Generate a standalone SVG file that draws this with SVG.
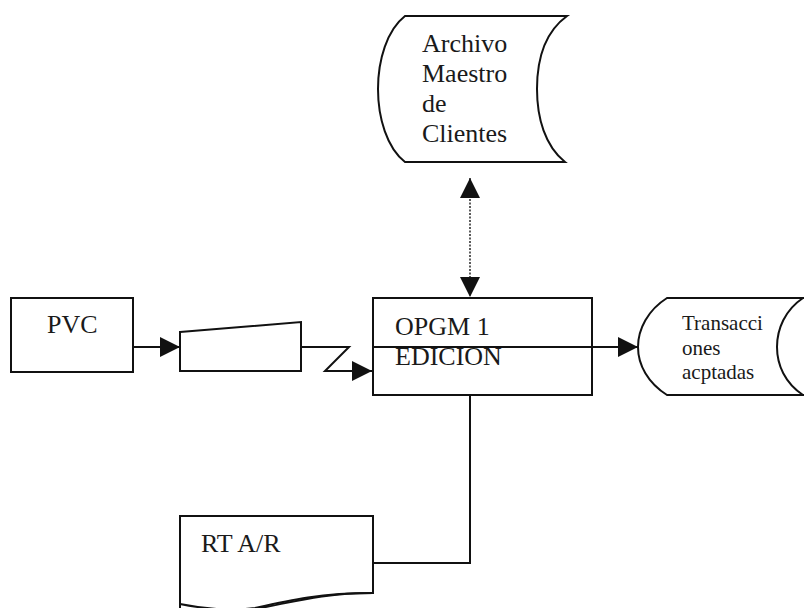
<svg xmlns="http://www.w3.org/2000/svg" width="804" height="608" viewBox="0 0 804 608">
<style>
.s{fill:#fff;stroke:#111;stroke-width:2;stroke-linejoin:miter}
.c{fill:none;stroke:#111;stroke-width:2}
.d{fill:none;stroke:#333;stroke-width:1.6;stroke-dasharray:2 1.5}
.t{font-family:"Liberation Serif","Times New Roman",serif;font-size:26px;fill:#1a1a1a}
.t2{font-family:"Liberation Serif","Times New Roman",serif;font-size:21px;fill:#1a1a1a}
</style>
<defs>
<marker id="ah" viewBox="0 0 20 20" refX="20" refY="10" markerWidth="20" markerHeight="20" markerUnits="userSpaceOnUse" orient="auto-start-reverse">
<path d="M0,0 L20,10 L0,20 z" fill="#111"/>
</marker>
</defs>
<rect width="804" height="608" fill="#fff"/>
<g id="archivo">
<path class="s" d="M405,16 L567,16 C545,32 537,60 537,89 C537,118 545,146 565,162 L405,162 C387,148 378,118 378,89 C378,60 387,30 405,16 z"/>
<text class="t" x="422" y="52">Archivo</text>
<text class="t" x="422" y="82">Maestro</text>
<text class="t" x="422" y="112">de</text>
<text class="t" x="422" y="142">Clientes</text>
</g>
<g id="pvc">
<rect class="s" x="11" y="298" width="122" height="74"/>
<text class="t" x="47" y="333">PVC</text>
</g>
<g id="entrada">
<path class="s" d="M180,332 L301,322 L301,371 L180,371 z"/>
</g>
<g id="proceso">
<rect class="s" x="373" y="298" width="219" height="97"/>
<text class="t" x="395" y="335">OPGM 1</text>
<text class="t" x="395" y="365">EDICION</text>
</g>
<g id="transacciones">
<path class="s" d="M667,298 L806,298 L806,395 L667,395 C648,383 638,365 638,347 C638,329 648,310 667,298 z"/>
<path class="c" d="M803,298 C785,310 777,329 777,347 C777,365 785,383 803,395"/>
<text class="t2" x="682" y="330">Transacci</text>
<text class="t2" x="682" y="355">ones</text>
<text class="t2" x="682" y="379">acptadas</text>
</g>
<g id="reporte">
<path class="s" d="M180,516 L373,516 L373,593 C320,593 290,603 255,609 L180,609 L180,516 z"/>
<path class="c" d="M373,593 C320,593 290,600 255,608 C225,612 200,608 180,604"/>
<text class="t" x="201" y="552">RT A/R</text>
</g>
<g id="conectores">
<line class="d" x1="470" y1="178" x2="470" y2="297" marker-start="url(#ah)" marker-end="url(#ah)"/>
<line class="c" x1="133" y1="347" x2="180" y2="347" marker-end="url(#ah)"/>
<polyline class="c" points="301,347 349,347 325,371 372,371" marker-end="url(#ah)"/>
<line class="c" x1="373" y1="347" x2="638" y2="347" marker-end="url(#ah)"/>
<polyline class="c" points="470,395 470,563 373,563"/>
</g>
</svg>
